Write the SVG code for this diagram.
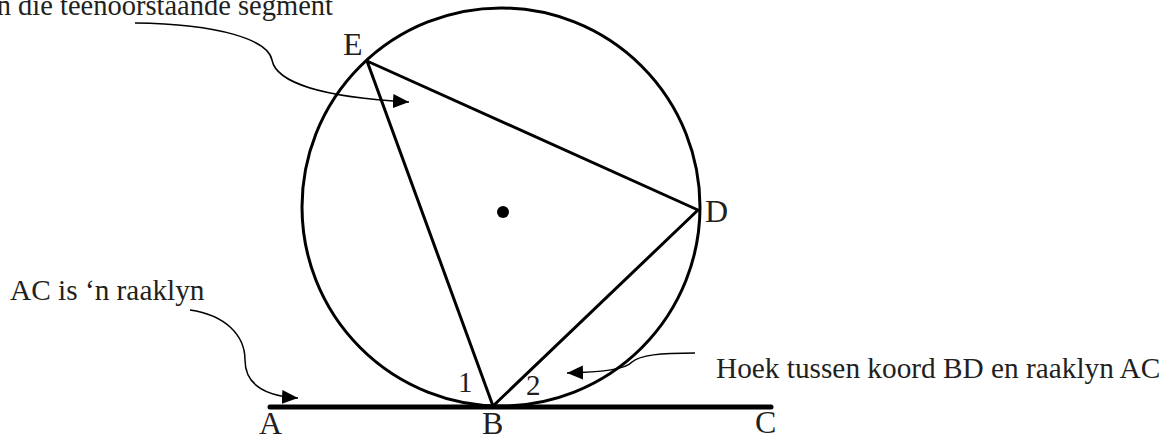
<svg xmlns="http://www.w3.org/2000/svg" width="1176" height="440" viewBox="0 0 1176 440">
  <style>
    .txt { font-family: "Liberation Serif", "Times New Roman", serif; font-size: 29.3px; fill: #231f20; }
    .top { font-size: 28.5px; }
    .lbl { font-family: "Liberation Serif", "Times New Roman", serif; font-size: 32px; fill: #231f20; }
    .num { font-family: "Liberation Serif", "Times New Roman", serif; font-size: 29px; fill: #231f20; }
    .shape { fill: none; stroke: #000; stroke-width: 3; stroke-linejoin: round; }
    .conn { fill: none; stroke: #000; stroke-width: 1.5; marker-end: url(#arr); }
  </style>
  <defs>
    <marker id="arr" markerUnits="userSpaceOnUse" markerWidth="17" markerHeight="15" refX="16" refY="7" orient="auto">
      <path d="M0,0 L16,7 L0,14 Z" fill="#000"/>
    </marker>
  </defs>
  <rect width="1176" height="440" fill="#fff"/>

  <g id="circle">
    <circle class="shape" cx="501" cy="207" r="199"/>
    <circle cx="503" cy="212" r="6" fill="#000"/>
  </g>
  <g id="tangent">
    <line x1="270" y1="407" x2="771" y2="407" stroke="#000" stroke-width="5" stroke-linecap="round"/>
  </g>
  <g id="triangle">
    <polygon class="shape" points="367,61 698,210 493,406"/>
  </g>

  <g id="labels">
    <text class="lbl" x="343" y="55">E</text>
    <text class="lbl" x="705" y="222">D</text>
    <text class="lbl" x="259" y="434">A</text>
    <text class="lbl" x="482" y="434">B</text>
    <text class="lbl" x="755" y="433">C</text>
    <text class="num" x="458" y="392">1</text>
    <text class="num" x="526" y="395">2</text>
  </g>

  <g id="note-segment">
    <text class="txt top" x="333" y="15" text-anchor="end">n die teenoorstaande segment</text>
  </g>
  <g id="note-tangent">
    <text class="txt" x="10" y="300">AC is ‘n raaklyn</text>
  </g>
  <g id="note-angle">
    <text class="txt" x="716" y="378">Hoek tussen koord BD en raaklyn AC</text>
  </g>

  <g id="connectors">
    <path class="conn" d="M135,23 C220,24 268,40 272,60 C276,82 320,97 409,102"/>
    <path class="conn" d="M190,310 C225,315 245,335 245,360 C245,385 265,396 298,398"/>
    <path class="conn" d="M695,353 C660,353 640,355 632,362 C625,370 600,372 567,373"/>
  </g>
</svg>
